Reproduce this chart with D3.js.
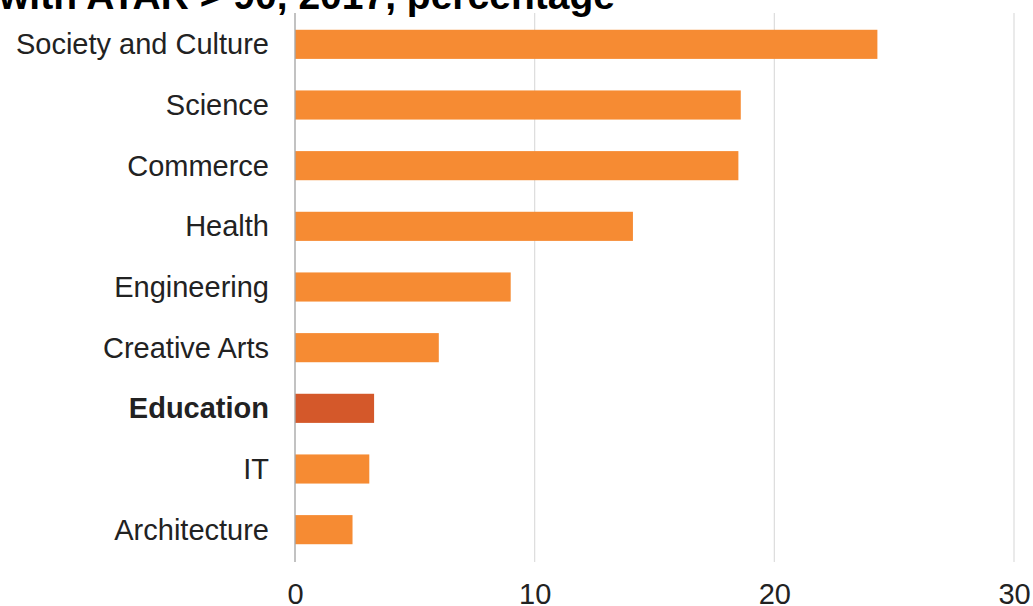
<!DOCTYPE html>
<html>
<head>
<meta charset="utf-8">
<script src="https://cdn.jsdelivr.net/npm/d3@7"></script>
<style>
  html, body { margin: 0; padding: 0; background: #fff; }
  svg { display: block; font-family: "Liberation Sans", Arial, sans-serif; }
</style>
</head>
<body>
<svg id="chart" width="1033" height="606"></svg>
<script>
// Fields of study, share of students with ATAR > 90 (2017, %)
const categories = ["Society and Culture", "Science", "Commerce", "Health", "Engineering",
                    "Creative Arts", "Education", "IT", "Architecture"];
const values = [24.3, 18.6, 18.5, 14.1, 9.0, 6.0, 3.3, 3.1, 2.4];
const highlight = "Education";
const xTicks = [0, 10, 20, 30];
const titleText = "with ATAR > 90, 2017, percentage";

const svg = d3.select("#chart");

const x = d3.scaleLinear().domain([0, 30]).range([295, 1014]);
const y = d3.scaleBand().domain(categories).range([14, 560])
  .paddingInner(0.52).paddingOuter(0.26);

// Title (partly above the visible area)
svg.append("text")
  .attr("x", -1).attr("y", 9)
  .attr("font-size", 39).attr("font-weight", "bold").attr("fill", "#000")
  .text(titleText);

// Vertical gridlines
svg.append("g").selectAll("line")
  .data(xTicks.filter(d => d !== 0))
  .join("line")
  .attr("x1", d => x(d)).attr("x2", d => x(d))
  .attr("y1", 13).attr("y2", 562)
  .attr("stroke", "#dcdcdc").attr("stroke-width", 1.2);

// Bars
svg.append("g").selectAll("rect")
  .data(categories)
  .join("rect")
  .attr("x", x(0))
  .attr("y", d => y(d))
  .attr("width", (d, i) => x(values[i]) - x(0))
  .attr("height", y.bandwidth())
  .attr("fill", d => d === highlight ? "#d4582a" : "#f68b33");

// Zero axis line
svg.append("line")
  .attr("x1", x(0)).attr("x2", x(0))
  .attr("y1", 13).attr("y2", 562)
  .attr("stroke", "#a8a8a8").attr("stroke-width", 1.4);

// Category labels
const yAxis = svg.append("g")
  .attr("transform", `translate(${x(0) - 26},0)`)
  .call(d3.axisLeft(y).tickSize(0).tickPadding(0));
yAxis.select(".domain").remove();
yAxis.selectAll("text")
  .attr("font-size", 29)
  .attr("fill", "#222")
  .attr("font-family", "'Liberation Sans', Arial, sans-serif")
  .attr("font-weight", d => d === highlight ? "bold" : "normal")
  .attr("dy", "0.34em");

// Value axis labels
const xAxis = svg.append("g")
  .attr("transform", "translate(0,583)")
  .call(d3.axisBottom(x).tickValues(xTicks).tickSize(0).tickPadding(0).tickFormat(d3.format("d")));
xAxis.select(".domain").remove();
xAxis.selectAll("text")
  .attr("font-size", 29)
  .attr("fill", "#222")
  .attr("font-family", "'Liberation Sans', Arial, sans-serif")
  .attr("dy", "0.72em");
</script>
</body>
</html>
